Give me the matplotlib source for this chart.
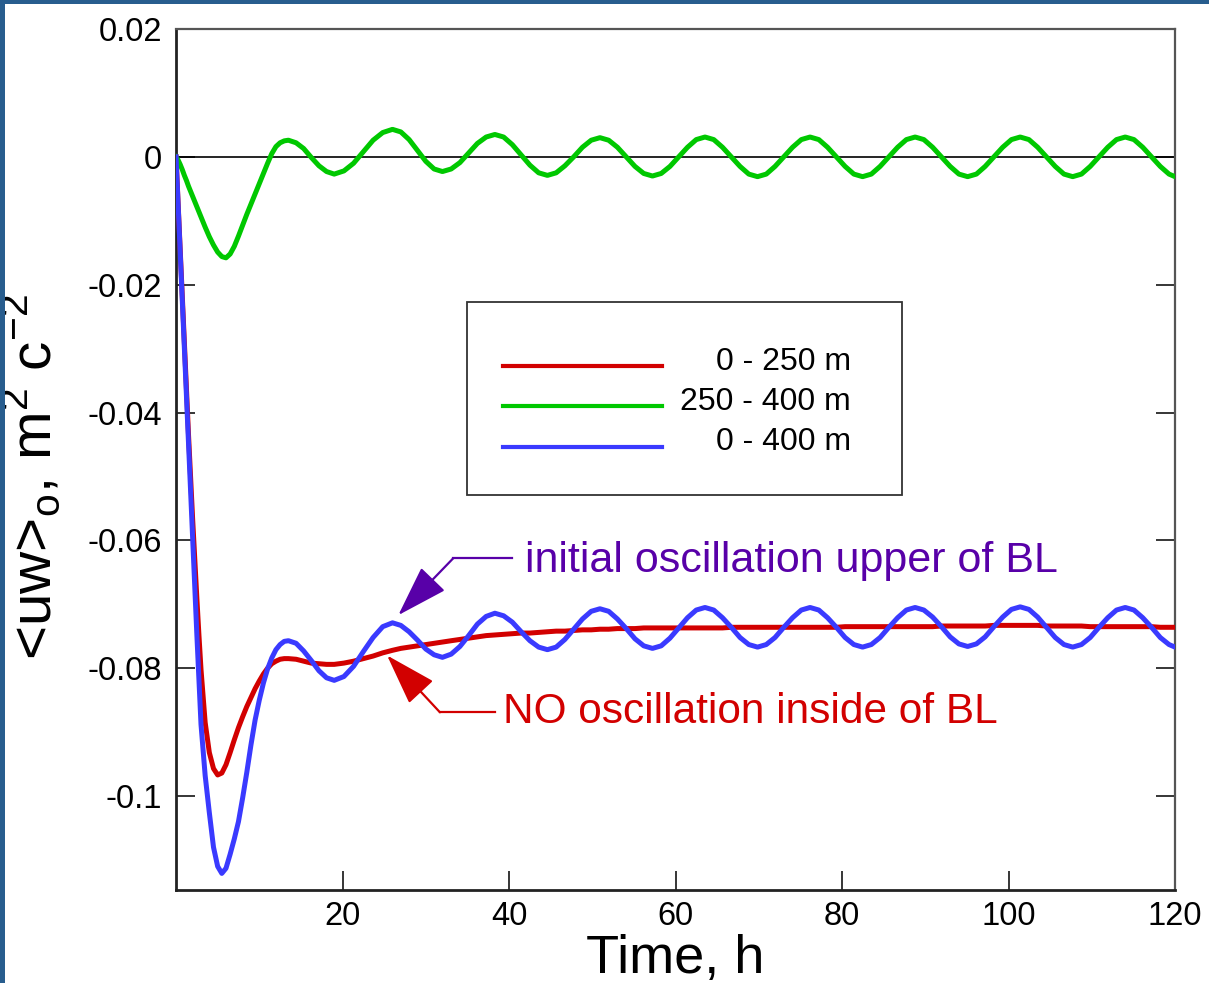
import matplotlib
matplotlib.use('Agg')
import matplotlib.pyplot as plt
from matplotlib.patches import Rectangle
from matplotlib.lines import Line2D

plt.rcParams['font.family'] = ['Liberation Sans', 'DejaVu Sans']
plt.rcParams['mathtext.fontset'] = 'custom'
plt.rcParams['mathtext.rm'] = 'Liberation Sans'

# time, hours (spin-up, first cycles, steady oscillation)
time_h = [0, 0.25, 0.5, 0.75, 1, 1.25, 1.5, 1.75, 2, 2.25, 2.5, 2.75, 3,
          3.5, 4, 4.5, 5, 5.5, 6, 6.5, 7, 7.5, 8, 8.5, 9, 9.5, 10, 10.5, 11, 11.5, 12, 12.5, 13,
          13.5, 14.42, 15.33, 16.25, 17.17, 18.08, 19.0, 20.17, 21.33, 22.5, 23.67, 24.83,
          26.0, 27, 28, 29, 30, 31, 32, 33.05, 34.1, 35.15, 36.2, 37.25,
          38.30, 39.35, 40.40, 41.46, 42.51, 43.56, 44.61, 45.66, 46.71, 47.77, 48.82, 49.87,
          50.92, 51.97, 53.02, 54.08, 55.13, 56.18, 57.23, 58.28, 59.33, 60.39, 61.44, 62.49,
          63.54, 64.59, 65.64, 66.70, 67.75, 68.80, 69.85, 70.90, 71.95, 73.01, 74.06, 75.11,
          76.16, 77.21, 78.26, 79.32, 80.37, 81.42, 82.47, 83.52, 84.57, 85.63, 86.68, 87.73,
          88.78, 89.83, 90.88, 91.94, 92.99, 94.04, 95.09, 96.14, 97.19, 98.25, 99.30, 100.35,
          101.40, 102.45, 103.50, 104.56, 105.61, 106.66, 107.71, 108.76, 109.81, 110.87, 111.92, 112.97,
          114.02, 115.07, 116.12, 117.18, 118.23, 119.28, 120.0]

# 0 - 250 m
uw_low = [0.0, -0.0073, -0.0146, -0.0219, -0.0292, -0.0364, -0.0435, -0.0503, -0.0568, -0.0630, -0.0690, -0.0748, -0.0802,
          -0.0885, -0.0932, -0.0957, -0.0967, -0.0964, -0.0951, -0.0932, -0.0912, -0.0893, -0.0876, -0.0860, -0.0846,
          -0.0832, -0.0820, -0.0809, -0.0800, -0.0793, -0.0789, -0.0786, -0.0785,
          -0.0785, -0.0786, -0.0789, -0.0792, -0.0793, -0.0794, -0.0794, -0.0792, -0.0789, -0.0785, -0.0781, -0.0776,
          -0.0772, -0.0769, -0.0767, -0.0765, -0.0763, -0.0761, -0.0759, -0.0757, -0.0755, -0.0753, -0.0751, -0.0749,
          -0.0748, -0.0747, -0.0746, -0.0745, -0.0745, -0.0744, -0.0743, -0.0742, -0.0742, -0.0741, -0.0740, -0.0740,
          -0.0739, -0.0739, -0.0738, -0.0738, -0.0738, -0.0737, -0.0737, -0.0737, -0.0737, -0.0737, -0.0737, -0.0737,
          -0.0737, -0.0737, -0.0737, -0.0736, -0.0736, -0.0736, -0.0736, -0.0736, -0.0736, -0.0736, -0.0736, -0.0736,
          -0.0736, -0.0736, -0.0736, -0.0736, -0.0735, -0.0735, -0.0735, -0.0735, -0.0735, -0.0735, -0.0735, -0.0735,
          -0.0735, -0.0735, -0.0735, -0.0734, -0.0734, -0.0734, -0.0734, -0.0734, -0.0734, -0.0733, -0.0733, -0.0733,
          -0.0733, -0.0733, -0.0733, -0.0734, -0.0734, -0.0734, -0.0734, -0.0734, -0.0735, -0.0735, -0.0735, -0.0735,
          -0.0735, -0.0735, -0.0735, -0.0735, -0.0736, -0.0736, -0.0736]

# 250 - 400 m
uw_up = [0.0, -0.0005, -0.0012, -0.0020, -0.0029, -0.0037, -0.0046, -0.0054, -0.0062, -0.0070, -0.0078, -0.0086, -0.0094,
         -0.0110, -0.0125, -0.0138, -0.0149, -0.0156, -0.0158, -0.0152, -0.0140, -0.0124, -0.0107, -0.0090, -0.0074,
         -0.0058, -0.0042, -0.0026, -0.0010, 0.0005, 0.0016, 0.0022, 0.0025,
         0.0026, 0.0022, 0.0013, -0.0001, -0.0014, -0.0023, -0.0027, -0.0022, -0.0010, 0.0008, 0.0026, 0.0038,
         0.0043, 0.0039, 0.0027, 0.0010, -0.0007, -0.0019, -0.0023, -0.0019, -0.0009, 0.0006, 0.0021, 0.0031,
         0.0035, 0.0031, 0.0019, 0.0003, -0.0013, -0.0025, -0.0029, -0.0025, -0.0014, 0.0000, 0.0015, 0.0026,
         0.0030, 0.0026, 0.0015, 0.0000, -0.0015, -0.0026, -0.0030, -0.0026, -0.0015, 0.0000, 0.0015, 0.0027,
         0.0031, 0.0027, 0.0015, 0.0000, -0.0015, -0.0027, -0.0031, -0.0027, -0.0015, 0.0000, 0.0015, 0.0027,
         0.0031, 0.0027, 0.0015, 0.0000, -0.0015, -0.0027, -0.0031, -0.0027, -0.0015, 0.0000, 0.0015, 0.0027,
         0.0031, 0.0027, 0.0015, 0.0000, -0.0015, -0.0027, -0.0031, -0.0027, -0.0015, 0.0000, 0.0015, 0.0027,
         0.0031, 0.0027, 0.0015, 0.0000, -0.0015, -0.0027, -0.0031, -0.0027, -0.0015, 0.0000, 0.0015, 0.0027,
         0.0031, 0.0027, 0.0015, 0.0000, -0.0015, -0.0027, -0.0031]

# 0 - 400 m
uw_all = [0.0, -0.0075, -0.0150, -0.0225, -0.0300, -0.0375, -0.0450, -0.0525, -0.0600, -0.0673, -0.0747, -0.0818, -0.0888,
          -0.0968, -0.1026, -0.1080, -0.1110, -0.1121, -0.1113, -0.1091, -0.1067, -0.1040, -0.1003, -0.0963, -0.0920,
          -0.0881, -0.0850, -0.0823, -0.0801, -0.0784, -0.0771, -0.0763, -0.0758,
          -0.0757, -0.0761, -0.0773, -0.0788, -0.0804, -0.0815, -0.0819, -0.0813, -0.0797, -0.0774, -0.0752, -0.0735,
          -0.0729, -0.0733, -0.0743, -0.0756, -0.0770, -0.0779, -0.0783, -0.0778, -0.0766, -0.0749, -0.0731, -0.0719,
          -0.0714, -0.0718, -0.0728, -0.0743, -0.0757, -0.0767, -0.0771, -0.0767, -0.0755, -0.0739, -0.0723, -0.0711,
          -0.0707, -0.0711, -0.0723, -0.0738, -0.0754, -0.0765, -0.0769, -0.0765, -0.0753, -0.0737, -0.0721, -0.0709,
          -0.0705, -0.0709, -0.0721, -0.0736, -0.0752, -0.0763, -0.0767, -0.0763, -0.0752, -0.0736, -0.0721, -0.0709,
          -0.0705, -0.0709, -0.0721, -0.0736, -0.0752, -0.0763, -0.0767, -0.0763, -0.0752, -0.0736, -0.0721, -0.0709,
          -0.0705, -0.0709, -0.0720, -0.0735, -0.0751, -0.0762, -0.0766, -0.0762, -0.0751, -0.0735, -0.0720, -0.0708,
          -0.0704, -0.0708, -0.0720, -0.0736, -0.0752, -0.0763, -0.0767, -0.0763, -0.0752, -0.0736, -0.0721, -0.0709,
          -0.0705, -0.0709, -0.0721, -0.0736, -0.0752, -0.0763, -0.0767]

series = [
    ('0 - 250 m', uw_low, '#d20000'),
    ('250 - 400 m', uw_up, '#00c800'),
    ('0 - 400 m', uw_all, '#3a3aff'),
]

x_ticks = [20, 40, 60, 80, 100, 120]
y_ticks = [0.02, 0, -0.02, -0.04, -0.06, -0.08, -0.1]
y_tick_labels = ['0.02', '0', '-0.02', '-0.04', '-0.06', '-0.08', '-0.1']

fig = plt.figure(figsize=(12.09, 9.83), dpi=100)
ax = fig.add_axes([0.1456, 0.0946, 0.8263, 0.8759])

ax.axhline(0, color='black', lw=1.2, zorder=1)
for name, values, color in series:
    ax.plot(time_h, values, color=color, lw=3.6, zorder=3, solid_joinstyle='round')

ax.set_xlim(0, 120)
ax.set_ylim(-0.1147, 0.02)
ax.set_xticks(x_ticks)
ax.set_xticklabels([str(v) for v in x_ticks])
ax.set_yticks(y_ticks)
ax.set_yticklabels(y_tick_labels)
ax.tick_params(direction='in', length=14, width=1.1, labelsize=23.5,
               left=True, right=True, top=False, bottom=True)
ax.tick_params(axis='y', pad=10)
ax.tick_params(axis='x', pad=8)
for side in ['left', 'bottom']:
    ax.spines[side].set_linewidth(2.0)
    ax.spines[side].set_color('#222222')
for side in ['top', 'right']:
    ax.spines[side].set_linewidth(1.6)
    ax.spines[side].set_color('#555555')

ax.set_xlabel('Time, h', fontsize=39, labelpad=1)
ax.set_ylabel(r'<uw>$_\mathregular{o}$, m$^\mathregular{2}$ c$^\mathregular{-2}$', fontsize=42)
ax.yaxis.set_label_coords(-0.114, 0.48)

# legend box
ax.add_patch(Rectangle((0.291, 0.4588), 0.4354, 0.2245, transform=ax.transAxes,
                       facecolor='white', edgecolor='#333333', lw=1.3, zorder=4))
legend_y = [0.6086, 0.5621, 0.5149]
for (name, values, color), ly in zip(series, legend_y):
    ax.add_line(Line2D([0.327, 0.4868], [ly, ly], transform=ax.transAxes,
                       color=color, lw=3.0, zorder=5))
    ax.text(0.6757, ly + 0.005, name, transform=ax.transAxes, fontsize=23,
            ha='right', va='center', zorder=5)

# annotations
purple = '#5800a8'
red = '#d20000'
head = '-|>,head_length=1.3,head_width=0.42'
ax.annotate('', xy=(26.7, -0.0717), xytext=(33.3, -0.0628),
            arrowprops=dict(arrowstyle=head, mutation_scale=25, color=purple, lw=1.6,
                            shrinkA=0, shrinkB=0), zorder=6)
ax.plot([33.3, 40.4], [-0.0628, -0.0628], color=purple, lw=1.6, zorder=6)
ax.text(41.9, -0.0650, 'initial oscillation upper of BL', color=purple,
        fontsize=31, ha='left', va='baseline')

ax.annotate('', xy=(25.35, -0.0780), xytext=(31.7, -0.0869),
            arrowprops=dict(arrowstyle=head, mutation_scale=25, color=red, lw=1.6,
                            shrinkA=0, shrinkB=0), zorder=6)
ax.plot([31.7, 38.3], [-0.0869, -0.0869], color=red, lw=1.6, zorder=6)
ax.text(39.3, -0.0886, 'NO oscillation inside of BL', color=red,
        fontsize=30.5, ha='left', va='baseline')

# blue frame strips on left and top
fig.patches.append(Rectangle((0, 0), 5 / 1209, 1, transform=fig.transFigure,
                             facecolor='#285d8e', edgecolor='none'))
fig.patches.append(Rectangle((0, 1 - 4 / 983), 1, 4 / 983, transform=fig.transFigure,
                             facecolor='#285d8e', edgecolor='none'))

plt.savefig('out.png', dpi=100)
